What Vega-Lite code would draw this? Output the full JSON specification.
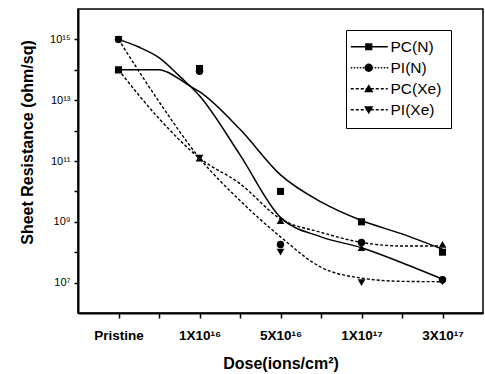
{
  "$schema": "https://vega.github.io/schema/vega-lite/v6.json",
  "width": 405,
  "height": 304,
  "autosize": {"type": "none"},
  "padding": {"left": 78, "top": 9, "right": 2, "bottom": 61},
  "background": "white",
  "config": {
    "view": {"stroke": "black", "strokeWidth": 1.5},
    "font": "Liberation Sans",
    "axis": {
      "grid": false,
      "domainColor": "black",
      "domainWidth": 2,
      "tickColor": "black",
      "tickWidth": 1.5,
      "tickSize": 5,
      "labelColor": "black",
      "titleColor": "black",
      "labelFont": "Liberation Sans",
      "titleFont": "Liberation Sans",
      "titleFontWeight": "bold",
      "titleFontSize": 16
    }
  },
  "datasets": {
    "markers": [
      {"series": "PC(N)", "xi": 0, "r": 1e14},
      {"series": "PC(N)", "xi": 1, "r": 1.1e14},
      {"series": "PC(N)", "xi": 2, "r": 1e10},
      {"series": "PC(N)", "xi": 3, "r": 1e9},
      {"series": "PC(N)", "xi": 4, "r": 1e8},
      {"series": "PI(N)", "xi": 0, "r": 1e15},
      {"series": "PI(N)", "xi": 1, "r": 9e13},
      {"series": "PI(N)", "xi": 2, "r": 1.8e8},
      {"series": "PI(N)", "xi": 3, "r": 2.1e8},
      {"series": "PI(N)", "xi": 4, "r": 1.25e7},
      {"series": "PC(Xe)", "xi": 0, "r": 1e14},
      {"series": "PC(Xe)", "xi": 1, "r": 1.25e11},
      {"series": "PC(Xe)", "xi": 2, "r": 1.1e9},
      {"series": "PC(Xe)", "xi": 3, "r": 1.4e8},
      {"series": "PC(Xe)", "xi": 4, "r": 1.8e8},
      {"series": "PI(Xe)", "xi": 0, "r": 1e15},
      {"series": "PI(Xe)", "xi": 1, "r": 1.25e11},
      {"series": "PI(Xe)", "xi": 2, "r": 1e8},
      {"series": "PI(Xe)", "xi": 3, "r": 1e7},
      {"series": "PI(Xe)", "xi": 4, "r": 1.05e7}
    ],
    "solidCurves": [
      {"curve": "PC(N)", "xi": 0, "r": 1e14},
      {"curve": "PC(N)", "xi": 0.5, "r": 1e14},
      {"curve": "PC(N)", "xi": 0.6, "r": 8.5e13},
      {"curve": "PC(N)", "xi": 0.75, "r": 5e13},
      {"curve": "PC(N)", "xi": 0.875, "r": 3e13},
      {"curve": "PC(N)", "xi": 1, "r": 1.9e13},
      {"curve": "PC(N)", "xi": 1.5, "r": 1.1e12},
      {"curve": "PC(N)", "xi": 2, "r": 3.5e10},
      {"curve": "PC(N)", "xi": 2.5, "r": 4.5e9},
      {"curve": "PC(N)", "xi": 3, "r": 1.1e9},
      {"curve": "PC(N)", "xi": 3.5, "r": 4e8},
      {"curve": "PC(N)", "xi": 4, "r": 1.25e8},
      {"curve": "PI(N)", "xi": 0, "r": 1e15},
      {"curve": "PI(N)", "xi": 0.25, "r": 5.6e14},
      {"curve": "PI(N)", "xi": 0.5, "r": 2.5e14},
      {"curve": "PI(N)", "xi": 0.75, "r": 6.3e13},
      {"curve": "PI(N)", "xi": 1, "r": 1.4e13},
      {"curve": "PI(N)", "xi": 1.5, "r": 1.6e11},
      {"curve": "PI(N)", "xi": 2, "r": 1.4e9},
      {"curve": "PI(N)", "xi": 2.5, "r": 3.2e8},
      {"curve": "PI(N)", "xi": 3, "r": 1.4e8},
      {"curve": "PI(N)", "xi": 3.5, "r": 4.5e7},
      {"curve": "PI(N)", "xi": 4, "r": 1.3e7}
    ],
    "dashedCurves": [
      {"curve": "PC(Xe)", "xi": 0, "r": 1e14},
      {"curve": "PC(Xe)", "xi": 0.5, "r": 2.5e12},
      {"curve": "PC(Xe)", "xi": 1, "r": 1.25e11},
      {"curve": "PC(Xe)", "xi": 1.5, "r": 1.8e10},
      {"curve": "PC(Xe)", "xi": 2, "r": 1.25e9},
      {"curve": "PC(Xe)", "xi": 2.5, "r": 4.5e8},
      {"curve": "PC(Xe)", "xi": 3, "r": 2.1e8},
      {"curve": "PC(Xe)", "xi": 3.5, "r": 1.6e8},
      {"curve": "PC(Xe)", "xi": 4, "r": 1.6e8},
      {"curve": "PI(Xe)", "xi": 0, "r": 1e15},
      {"curve": "PI(Xe)", "xi": 0.5, "r": 9e12},
      {"curve": "PI(Xe)", "xi": 1, "r": 1.25e11},
      {"curve": "PI(Xe)", "xi": 1.5, "r": 5e9},
      {"curve": "PI(Xe)", "xi": 2, "r": 3.2e8},
      {"curve": "PI(Xe)", "xi": 2.5, "r": 3.2e7},
      {"curve": "PI(Xe)", "xi": 3, "r": 1.4e7},
      {"curve": "PI(Xe)", "xi": 3.5, "r": 1.1e7},
      {"curve": "PI(Xe)", "xi": 4, "r": 1.07e7}
    ]
  },
  "encoding": {
    "x": {
      "field": "xi",
      "type": "quantitative",
      "scale": {"domain": [-0.5, 4.5], "nice": false, "zero": false},
      "axis": {
        "title": "Dose(ions/cm²)",
        "values": [0, 0.5, 1, 1.5, 2, 2.5, 3, 3.5, 4],
        "labelExpr": "datum.value == 0 ? 'Pristine' : datum.value == 1 ? '1X10¹⁶' : datum.value == 2 ? '5X10¹⁶' : datum.value == 3 ? '1X10¹⁷' : datum.value == 4 ? '3X10¹⁷' : ''",
        "labelFontSize": 13.5,
        "labelFontWeight": "bold",
        "labelPadding": 10,
        "titlePadding": 14,
        "labelFlush": false
      }
    },
    "y": {
      "field": "r",
      "type": "quantitative",
      "scale": {"type": "log", "domain": [1e6, 1e16], "nice": false},
      "axis": {
        "title": "Sheet Resistance (ohm/sq)",
        "values": [1e7, 1e8, 1e9, 1e10, 1e11, 1e12, 1e13, 1e14, 1e15],
        "labelExpr": "datum.value == 1e7 ? '10⁷' : datum.value == 1e9 ? '10⁹' : datum.value == 1e11 ? '10¹¹' : datum.value == 1e13 ? '10¹³' : datum.value == 1e15 ? '10¹⁵' : ''",
        "labelFontSize": 11,
        "labelPadding": 4,
        "tickSize": 4,
        "titlePadding": 14,
        "titleY": 133,
        "labelFlush": false
      }
    }
  },
  "layer": [
    {
      "data": {"name": "solidCurves"},
      "mark": {"type": "line", "interpolate": "monotone", "color": "black", "strokeWidth": 1.5},
      "encoding": {"detail": {"field": "curve"}}
    },
    {
      "data": {"name": "dashedCurves"},
      "mark": {"type": "line", "interpolate": "monotone", "color": "black", "strokeWidth": 1.4, "strokeDash": [3, 2]},
      "encoding": {"detail": {"field": "curve"}}
    },
    {
      "data": {"name": "markers"},
      "transform": [{"filter": "datum.series == 'PC(N)'"}],
      "mark": {"type": "point", "shape": "square", "filled": true, "color": "black", "opacity": 1, "size": 50}
    },
    {
      "data": {"name": "markers"},
      "transform": [{"filter": "datum.series == 'PI(N)'"}],
      "mark": {"type": "point", "shape": "circle", "filled": true, "color": "black", "opacity": 1, "size": 55}
    },
    {
      "data": {"name": "markers"},
      "transform": [{"filter": "datum.series == 'PC(Xe)'"}],
      "mark": {"type": "point", "shape": "triangle-up", "filled": true, "color": "black", "opacity": 1, "size": 60}
    },
    {
      "data": {"name": "markers"},
      "transform": [{"filter": "datum.series == 'PI(Xe)'"}],
      "mark": {"type": "point", "shape": "triangle-down", "filled": true, "color": "black", "opacity": 1, "size": 60}
    },
    {
      "data": {"name": "markers"},
      "transform": [{"filter": "false"}],
      "mark": {"type": "point", "filled": true, "color": "black", "opacity": 1},
      "encoding": {
        "shape": {
          "field": "series",
          "type": "nominal",
          "scale": {
            "domain": ["PC(N)", "PI(N)", "PC(Xe)", "PI(Xe)"],
            "range": [
              "M-3,-0.18H6.25V0.18H-3ZM0.6,-0.9H2.4V0.9H0.6Z",
              "M-3,-0.18h0.375v0.36h-0.375ZM-2.25,-0.18h0.375v0.36h-0.375ZM-1.5,-0.18h0.375v0.36h-0.375ZM-0.75,-0.18h0.375v0.36h-0.375ZM0,-0.18h0.375v0.36h-0.375ZM0.75,-0.18h0.375v0.36h-0.375ZM1.5,-0.18h0.375v0.36h-0.375ZM2.25,-0.18h0.375v0.36h-0.375ZM3,-0.18h0.375v0.36h-0.375ZM3.75,-0.18h0.375v0.36h-0.375ZM4.5,-0.18h0.375v0.36h-0.375ZM5.25,-0.18h0.375v0.36h-0.375ZM6,-0.18h0.375v0.36h-0.375ZM0.45,0A1.05,1.05 0 1,1 2.55,0A1.05,1.05 0 1,1 0.45,0Z",
              "M-3,-0.18h0.75v0.36h-0.75ZM-1.75,-0.18h0.75v0.36h-0.75ZM-0.5,-0.18h0.75v0.36h-0.75ZM0.75,-0.18h0.75v0.36h-0.75ZM2,-0.18h0.75v0.36h-0.75ZM3.25,-0.18h0.75v0.36h-0.75ZM4.5,-0.18h0.75v0.36h-0.75ZM5.75,-0.18h0.5v0.36h-0.5ZM1.5,-1.15L2.65,0.9L0.35,0.9Z",
              "M-3,-0.18h0.75v0.36h-0.75ZM-1.75,-0.18h0.75v0.36h-0.75ZM-0.5,-0.18h0.75v0.36h-0.75ZM0.75,-0.18h0.75v0.36h-0.75ZM2,-0.18h0.75v0.36h-0.75ZM3.25,-0.18h0.75v0.36h-0.75ZM4.5,-0.18h0.75v0.36h-0.75ZM5.75,-0.18h0.5v0.36h-0.5ZM1.5,1.15L0.35,-0.9L2.65,-0.9Z"
            ]
          },
          "legend": {
            "title": null,
            "orient": "none",
            "legendX": 268,
            "legendY": 21,
            "symbolSize": 64,
            "symbolFillColor": "black",
            "labelOffset": 20,
            "labelFontSize": 15.5,
            "labelFont": "Liberation Sans",
            "labelColor": "black",
            "rowPadding": 4,
            "padding": 9,
            "strokeColor": "black",
            "fillColor": "white"
          }
        }
      }
    }
  ]
}
